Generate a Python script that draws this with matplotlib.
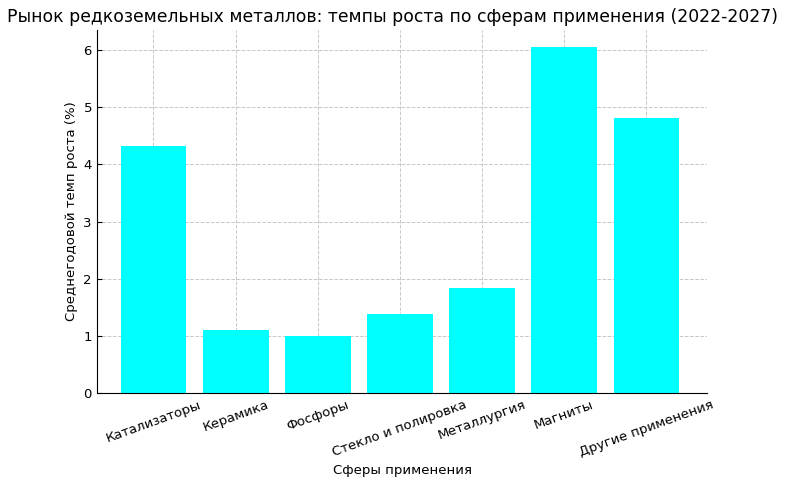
import matplotlib
matplotlib.use("Agg")
import matplotlib.pyplot as plt

# growth rates by application (CAGR 2022-2027, %)
categories = ["Катализаторы", "Керамика", "Фосфоры", "Стекло и полировка",
              "Металлургия", "Магниты", "Другие применения"]
growth = [4.32, 1.11, 1.00, 1.38, 1.84, 6.05, 4.81]

plt.rcParams["font.size"] = 9.5

fig, ax = plt.subplots(figsize=(8, 4.83), dpi=100)
fig.subplots_adjust(left=0.121, right=0.884, top=0.938, bottom=0.186)

ax.bar(categories, growth, color="cyan", width=0.8, zorder=2)
ax.set_xlim(-0.69, 6.74)

ax.set_title("Рынок редкоземельных металлов: темпы роста по сферам применения (2022-2027)",
             fontsize=12.4, x=0.485)
ax.set_xlabel("Сферы применения")
ax.set_ylabel("Среднегодовой темп роста (%)")
ax.tick_params(axis="x", rotation=20, direction="in")
ax.tick_params(axis="y", direction="in")
ax.grid(True, linestyle="--", color="#c8c8c8", linewidth=0.7, zorder=0)
ax.set_axisbelow(True)
for side in ("top", "right"):
    ax.spines[side].set_visible(False)

fig.savefig("out.png", dpi=100)
